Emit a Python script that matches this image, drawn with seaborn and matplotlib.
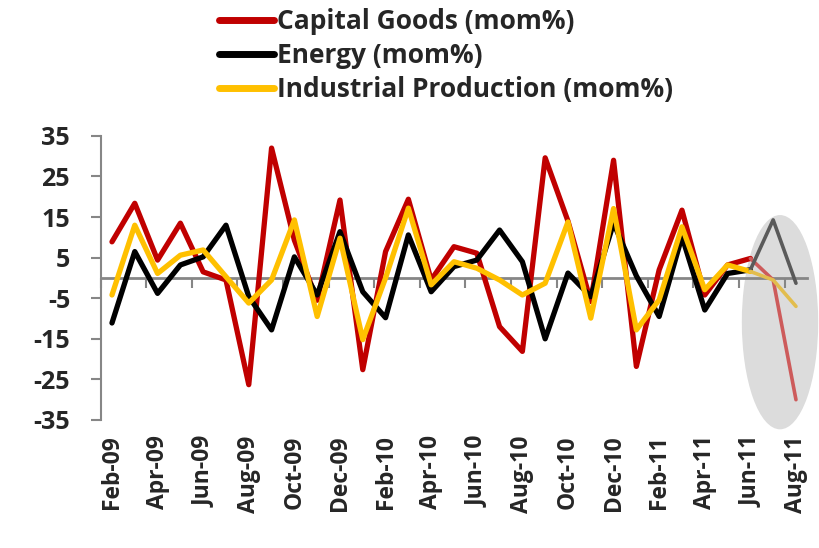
import numpy as np
import pandas as pd
import matplotlib
matplotlib.use("Agg")
import matplotlib.pyplot as plt
import seaborn as sns
from matplotlib.patches import Ellipse

# === data (mom %) ===
months = ["Feb-09", "Mar-09", "Apr-09", "May-09", "Jun-09", "Jul-09", "Aug-09", "Sep-09",
          "Oct-09", "Nov-09", "Dec-09", "Jan-10", "Feb-10", "Mar-10", "Apr-10", "May-10",
          "Jun-10", "Jul-10", "Aug-10", "Sep-10", "Oct-10", "Nov-10", "Dec-10", "Jan-11",
          "Feb-11", "Mar-11", "Apr-11", "May-11", "Jun-11", "Jul-11", "Aug-11"]
capital_goods = [8.9, 18.4, 4.4, 13.5, 1.5, -0.5, -26.3, 32.0, 9.3, -5.5, 19.2, -22.6, 6.5,
                 19.4, -0.5, 7.7, 6.1, -12.0, -18.1, 29.6, 14.0, -5.8, 29.0, -21.8, 2.0,
                 16.7, -4.2, 3.2, 4.8, -0.5, -30.0]
energy = [-11.1, 6.5, -3.8, 3.2, 5.2, 13.0, -4.6, -12.8, 5.2, -4.2, 11.4, -3.4, -9.8, 10.6,
          -3.4, 2.8, 4.4, 11.8, 4.0, -15.0, 1.2, -4.6, 13.5, 0.5, -9.5, 10.2, -7.9, 1.1,
          2.0, 14.3, -1.3]
industrial = [-4.2, 13.0, 1.1, 5.6, 6.9, 0.3, -6.2, -0.5, 14.3, -9.5, 9.8, -15.2, 0.0, 17.2,
              -1.7, 4.0, 2.4, -0.5, -4.2, -1.3, 13.8, -9.9, 17.1, -12.8, -5.4, 12.6, -2.9,
              3.2, 1.6, -0.5, -7.0]

names = ["Capital Goods (mom%)", "Energy (mom%)", "Industrial Production (mom%)"]
colors = ["#C00000", "#000000", "#FFC000"]
faded = ["#CD5B5B", "#5A5A5A", "#E2BD4E"]
axis_gray = "#868686"

sns.set_style("white")
plt.rcParams["font.family"] = ["Open Sans", "DejaVu Sans"]
plt.rcParams["font.weight"] = "bold"
plt.rcParams["axes.unicode_minus"] = False

df = pd.DataFrame({"idx": np.arange(len(months)), "month": months,
                   names[0]: capital_goods, names[1]: energy, names[2]: industrial})
long = df.melt(id_vars=["idx", "month"], var_name="series", value_name="value")

cut = months.index("Jun-11")  # highlighted tail starts here
main = long[long["idx"] <= cut]
tail = long[long["idx"] >= cut]

fig = plt.figure(figsize=(8.19, 5.48), dpi=100)
ax = fig.add_axes([0.1228, 0.2336, 0.863, 0.5184])

# grey highlight ellipse round the last months
ax.add_patch(Ellipse((29.3, -10.9), 3.35, 52.8, facecolor="#DCDCDC", edgecolor="none",
                     zorder=1, clip_on=False))

sns.lineplot(data=main, x="idx", y="value", hue="series", hue_order=names,
             palette=colors, linewidth=3.8, ax=ax, zorder=3)
sns.lineplot(data=tail, x="idx", y="value", hue="series", hue_order=names,
             palette=faded, linewidth=2.6, ax=ax, zorder=3, legend=False)

handles, labels = ax.get_legend_handles_labels()
ax.get_legend().remove()
leg = fig.legend(handles, labels, loc="upper left", bbox_to_anchor=(0.264, 0.99),
                 frameon=False, fontsize=19, handlelength=2.1, handletextpad=0.12,
                 labelspacing=0.27, borderpad=0.1, borderaxespad=0)
for h in leg.get_lines():
    h.set_linewidth(5)

ax.set_xlim(-0.5, len(months) - 0.5)
ax.set_ylim(-35, 35)
ax.set_yticks(np.arange(-35, 36, 10))
ax.set_xticks(np.arange(0, len(months), 2))
ax.set_xticklabels(months[::2], rotation=90, fontsize=16.5, fontweight="bold")
ax.set_xlabel("")
ax.set_ylabel("")
ax.tick_params(axis="x", bottom=False, length=0, pad=11)
ax.tick_params(axis="y", left=True, length=7, width=1.5, color=axis_gray,
               direction="out", pad=15, labelsize=18)

for side in ["top", "right", "bottom"]:
    ax.spines[side].set_visible(False)
ax.spines["left"].set_color(axis_gray)
ax.spines["left"].set_linewidth(1.5)

# category axis crossing at zero, tick marks between every other month
zero = ax.secondary_xaxis(0.5)
zero.set_alignment("bottom")
zero.set_zorder(1.5)
zero.set_xticks(np.arange(-0.5, len(months), 2))
zero.tick_params(axis="x", bottom=True, top=False, labelbottom=False, labeltop=False,
                 length=7, width=1.5, color=axis_gray, direction="out")
zero.spines["bottom"].set_color(axis_gray)
zero.spines["bottom"].set_linewidth(2)

fig.savefig("out.png", dpi=100)
